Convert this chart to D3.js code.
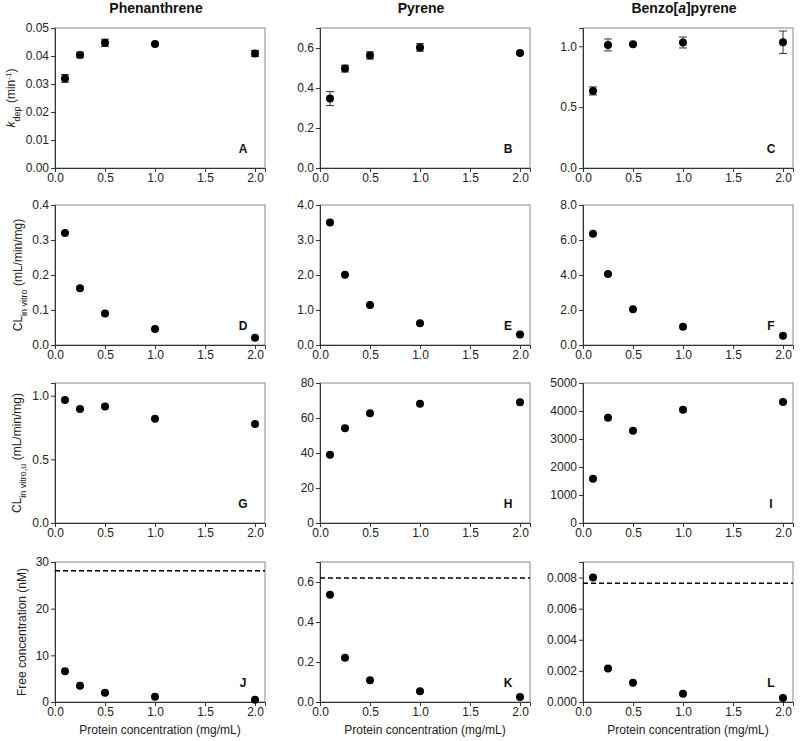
<!DOCTYPE html>
<html><head><meta charset="utf-8">
<script src="https://cdn.jsdelivr.net/npm/d3@7"></script>
<style>body{margin:0;background:#fff}svg{display:block}text{font-family:"Liberation Sans",Arial,sans-serif}</style>
</head><body>
<script>
// ---- data ----
const conc = [0.1, 0.25, 0.5, 1.0, 2.0];
const compounds = ["Phenanthrene", "Pyrene", "Benzo[a]pyrene"];
const xTicks = [0, 0.5, 1.0, 1.5, 2.0];
const panelLetters = ["A","B","C","D","E","F","G","H","I","J","K","L"];

// k_dep (min^-1), mean and error
const kdepPhe = [0.0320, 0.0404, 0.0447, 0.0443, 0.0409];
const kdepPheErr = [0.0014, 0.0010, 0.0013, 0.0003, 0.0011];
const kdepPyr = [0.347, 0.497, 0.563, 0.603, 0.575];
const kdepPyrErr = [0.035, 0.017, 0.018, 0.019, 0.006];
const kdepBaP = [0.633, 1.011, 1.017, 1.031, 1.033];
const kdepBaPErr = [0.033, 0.049, 0.008, 0.045, 0.092];

// CL in vitro (mL/min/mg)
const clPhe = [0.320, 0.162, 0.090, 0.046, 0.021];
const clPyr = [3.50, 2.01, 1.14, 0.62, 0.30];
const clBaP = [6.36, 4.06, 2.05, 1.05, 0.53];

// CL in vitro,u (mL/min/mg)
const cluPhe = [0.966, 0.896, 0.916, 0.820, 0.778];
const cluPyr = [39.0, 54.1, 62.7, 68.2, 69.0];
const cluBaP = [1583, 3762, 3298, 4048, 4321];

// free concentration (nM)
const freePhe = [6.6, 3.5, 2.0, 1.1, 0.5];
const freePyr = [0.536, 0.221, 0.109, 0.054, 0.025];
const freeBaP = [0.0080, 0.00215, 0.00124, 0.00053, 0.00026];
const solubility = [28.1, 0.62, 0.00764]; // dashed reference lines

// y axis domains and ticks
const yMax = [[0.05, 0.7, 1.15],[0.4, 4, 8],[1.1, 80, 5000],[30, 0.7, 0.009]];
const yTicks = [
  [[0,0.01,0.02,0.03,0.04,0.05],[0,0.2,0.4,0.6],[0,0.5,1.0]],
  [[0,0.1,0.2,0.3,0.4],[0,1,2,3,4],[0,2,4,6,8]],
  [[0,0.5,1.0],[0,20,40,60,80],[0,1000,2000,3000,4000,5000]],
  [[0,10,20,30],[0,0.2,0.4,0.6],[0,0.002,0.004,0.006,0.008]]
];
const yFormats = [[".2f",".1f",".1f"],[".1f",".1f",".1f"],[".1f","d","d"],["d",".1f",".3f"]];

const values = [
  [kdepPhe, kdepPyr, kdepBaP],
  [clPhe, clPyr, clBaP],
  [cluPhe, cluPyr, cluBaP],
  [freePhe, freePyr, freeBaP]
];
const errors = [[kdepPheErr, kdepPyrErr, kdepBaPErr], null, null, null];

// ---- layout ----
const W = 800, H = 741;
const colX = [55, 320, 583];
const rowY = [28, 205, 383, 562];
const pw = 210, ph = 140;

const svg = d3.select("body").append("svg").attr("width", W).attr("height", H);

// column titles
compounds.forEach((c, j) => {
  const t = svg.append("text").attr("x", colX[j] + pw/2 - 4).attr("y", 13)
    .attr("text-anchor", "middle").attr("font-size", 14).attr("font-weight", "bold").attr("fill", "#111");
  if (c.includes("[a]")) {
    t.append("tspan").text("Benzo[");
    t.append("tspan").attr("font-style", "italic").text("a");
    t.append("tspan").text("]pyrene");
  } else t.text(c);
});

for (let r = 0; r < 4; r++) {
  for (let c = 0; c < 3; c++) {
    const g = svg.append("g").attr("transform", `translate(${colX[c]},${rowY[r]})`);
    const x = d3.scaleLinear().domain([0, 2.1]).range([0, pw]);
    const y = d3.scaleLinear().domain([0, yMax[r][c]]).range([ph, 0]);

    // frame (top/right lighter)
    g.append("rect").attr("x", 0).attr("y", 0).attr("width", pw).attr("height", ph)
      .attr("fill", "none").attr("stroke", "#888").attr("stroke-width", 1);

    const xa = g.append("g").attr("transform", `translate(0,${ph})`)
      .call(d3.axisBottom(x).tickValues(xTicks).tickFormat(d3.format(".1f")).tickSizeOuter(0).tickSize(4));
    const ya = g.append("g")
      .call(d3.axisLeft(y).tickValues(yTicks[r][c]).tickFormat(d3.format(yFormats[r][c])).tickSizeOuter(0).tickSize(4));
    [xa, ya].forEach(a => {
      a.selectAll("path").attr("stroke", "#333");
      a.selectAll("line").attr("stroke", "#333");
      a.selectAll("text").attr("font-size", 12).attr("fill", "#222")
        .style("font-family", "'Liberation Sans',Arial,sans-serif");
    });
    xa.selectAll("text").attr("y", 5).attr("dy", "0.71em");
    ya.selectAll("text").attr("dx", "1px");

    // dashed reference line
    if (r === 3) {
      g.append("line").attr("x1", 0).attr("x2", pw)
        .attr("y1", y(solubility[c])).attr("y2", y(solubility[c]))
        .attr("stroke", "#000").attr("stroke-width", 1.5).attr("stroke-dasharray", "5,3");
    }

    const vals = values[r][c];
    const errs = errors[r] ? errors[r][c] : null;
    if (errs) {
      conc.forEach((d, i) => {
        const xx = x(d), y1 = y(vals[i] - errs[i]), y2 = y(vals[i] + errs[i]);
        g.append("line").attr("x1", xx).attr("x2", xx).attr("y1", y1).attr("y2", y2).attr("stroke", "#333").attr("stroke-width", 1);
        [y1, y2].forEach(yy => g.append("line").attr("x1", xx - 4).attr("x2", xx + 4).attr("y1", yy).attr("y2", yy).attr("stroke", "#333").attr("stroke-width", 1));
      });
    }
    g.selectAll("circle.pt").data(conc).enter().append("circle").attr("class", "pt")
      .attr("cx", d => x(d)).attr("cy", (d, i) => y(vals[i])).attr("r", 4).attr("fill", "#000");

    // panel letter
    g.append("text").attr("x", pw - 22).attr("y", ph - 15).attr("text-anchor", "middle")
      .attr("font-size", 12).attr("font-weight", "bold").attr("fill", "#111").text(panelLetters[r*3 + c]);
  }
}

// y axis titles (first column)
const yTitleX = [11, 18, 17, 22];
function yTitle(r, build) {
  const cy = rowY[r] + ph/2;
  const t = svg.append("text").attr("transform", `translate(${yTitleX[r]},${cy}) rotate(-90)`)
    .attr("text-anchor", "middle").attr("font-size", 12).attr("fill", "#222").attr("dy", "0.35em");
  build(t);
}
yTitle(0, t => {
  t.append("tspan").attr("font-style", "italic").text("k");
  t.append("tspan").attr("font-size", 9).attr("baseline-shift", "sub").text("dep");
  t.append("tspan").text(" (min");
  t.append("tspan").attr("font-size", 8).attr("baseline-shift", "super").text("-1");
  t.append("tspan").text(")");
});
yTitle(1, t => {
  t.append("tspan").text("CL");
  t.append("tspan").attr("font-size", 9).attr("baseline-shift", "sub").text("in vitro");
  t.append("tspan").text(" (mL/min/mg)");
});
yTitle(2, t => {
  t.append("tspan").text("CL");
  t.append("tspan").attr("font-size", 9).attr("baseline-shift", "sub").text("in vitro,u");
  t.append("tspan").text(" (mL/min/mg)");
});
yTitle(3, t => t.text("Free concentration (nM)"));

// x axis titles
for (let c = 0; c < 3; c++) {
  svg.append("text").attr("x", colX[c] + pw/2).attr("y", 734).attr("text-anchor", "middle")
    .attr("font-size", 12).attr("fill", "#222").text("Protein concentration (mg/mL)");
}
</script>
</body></html>
